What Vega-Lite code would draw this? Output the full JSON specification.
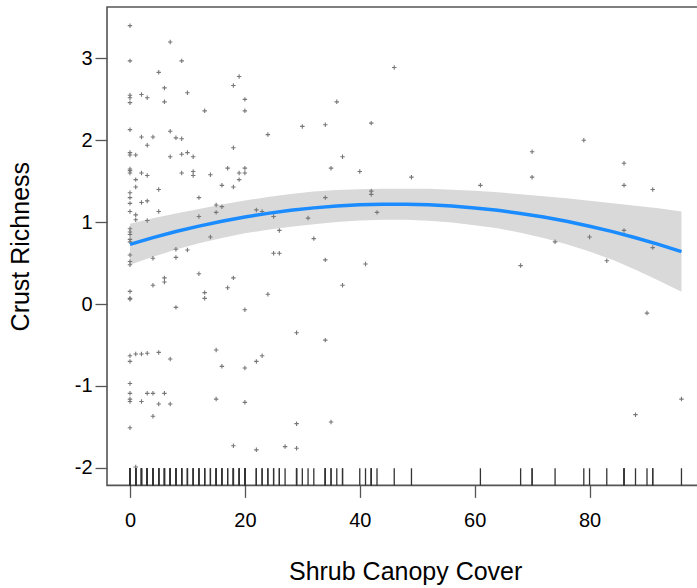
{
  "$schema": "https://vega.github.io/schema/vega-lite/v6.json",
  "width": 596.3,
  "height": 478.4,
  "autosize": {"type": "none"},
  "padding": {"left": 107, "top": 7, "right": 0, "bottom": 103},
  "background": "white",
  "config": {
    "view": {"stroke": "#555555", "strokeWidth": 1.6},
    "font": "Liberation Sans",
    "axis": {
      "grid": false, "domain": false,
      "tickSize": 12, "tickColor": "#555555", "tickWidth": 1.3,
      "labelFont": "Liberation Sans", "labelFontSize": 20, "labelColor": "#000000",
      "titleFont": "Liberation Sans", "titleFontSize": 25, "titleFontWeight": "normal", "titleColor": "#000000"
    },
    "axisX": {"labelPadding": 13, "titleBaseline": "middle", "titleY": 86},
    "axisY": {"labelPadding": 3, "titleBaseline": "middle", "titleX": -87, "titleY": 239.2, "titleAngle": 270}
  },
  "datasets": {
    "pts": [
      {"x":0,"y":3.40},{"x":0,"y":2.97},{"x":0,"y":2.55},{"x":0,"y":2.52},{"x":0,"y":2.46},{"x":0,"y":2.13},{"x":0,"y":1.85},{"x":0,"y":1.82},{"x":0,"y":1.65},{"x":0,"y":1.63},{"x":0,"y":1.60},{"x":0,"y":1.36},{"x":0,"y":1.30},{"x":0,"y":1.23},{"x":0,"y":1.13},{"x":0,"y":0.92},{"x":0,"y":0.88},{"x":0,"y":0.85},{"x":0,"y":0.79},{"x":0,"y":0.76},{"x":0,"y":0.60},{"x":0,"y":0.52},{"x":0,"y":0.48},{"x":0,"y":0.155},{"x":0,"y":0.07},{"x":0,"y":0.06},{"x":0,"y":-0.63},{"x":0,"y":-0.70},{"x":0,"y":-0.97},{"x":0,"y":-1.09},{"x":0,"y":-1.16},{"x":0,"y":-1.19},{"x":0,"y":-1.51},
      {"x":1,"y":1.82},{"x":1,"y":1.52},{"x":1,"y":1.43},{"x":1,"y":1.09},{"x":1,"y":1.03},{"x":1,"y":-0.61},{"x":1,"y":-1.99},
      {"x":2,"y":2.56},{"x":2,"y":2.04},{"x":2,"y":1.60},{"x":2,"y":1.24},{"x":2,"y":-0.61},{"x":2,"y":-1.19},
      {"x":3,"y":2.52},{"x":3,"y":1.94},{"x":3,"y":1.57},{"x":3,"y":1.26},{"x":3,"y":1.02},{"x":3,"y":-0.60},{"x":3,"y":-1.09},
      {"x":4,"y":2.04},{"x":4,"y":0.56},{"x":4,"y":0.23},{"x":4,"y":-1.09},{"x":4,"y":-1.37},
      {"x":5,"y":2.83},{"x":5,"y":1.40},{"x":5,"y":1.13},{"x":5,"y":-0.59},{"x":5,"y":-1.22},
      {"x":6,"y":2.64},{"x":6,"y":2.47},{"x":6,"y":0.32},{"x":6,"y":0.27},{"x":6,"y":-1.09},
      {"x":7,"y":3.20},{"x":7,"y":2.11},{"x":7,"y":1.80},{"x":7,"y":-0.67},{"x":7,"y":-1.22},
      {"x":8,"y":2.03},{"x":8,"y":0.67},{"x":8,"y":0.57},{"x":8,"y":-0.04},
      {"x":9,"y":2.97},{"x":9,"y":2.02},{"x":9,"y":1.83},{"x":9,"y":1.60},
      {"x":10,"y":2.58},{"x":10,"y":1.85},{"x":10,"y":0.66},
      {"x":11,"y":1.80},{"x":11,"y":1.62},{"x":11,"y":1.57},
      {"x":12,"y":1.30},{"x":12,"y":1.07},{"x":12,"y":0.37},
      {"x":13,"y":2.36},{"x":13,"y":0.14},{"x":13,"y":0.07},
      {"x":14,"y":1.58},{"x":14,"y":0.82},
      {"x":15,"y":1.21},{"x":15,"y":1.12},{"x":15,"y":-0.56},{"x":15,"y":-1.16},
      {"x":16,"y":1.45},{"x":16,"y":1.19},{"x":16,"y":-0.76},
      {"x":17,"y":1.66},{"x":17,"y":0.20},
      {"x":18,"y":2.67},{"x":18,"y":1.91},{"x":18,"y":1.43},{"x":18,"y":0.32},{"x":18,"y":-1.73},
      {"x":19,"y":2.78},{"x":19,"y":1.60},{"x":19,"y":1.52},
      {"x":20,"y":2.50},{"x":20,"y":2.36},{"x":20,"y":1.66},{"x":20,"y":1.60},{"x":20,"y":-0.07},{"x":20,"y":-0.78},{"x":20,"y":-1.20},
      {"x":22,"y":1.15},{"x":22,"y":-0.70},{"x":22,"y":-1.78},
      {"x":23,"y":1.13},{"x":23,"y":-0.63},
      {"x":24,"y":2.07},{"x":24,"y":0.12},
      {"x":25,"y":1.07},{"x":25,"y":0.62},
      {"x":26,"y":0.90},{"x":26,"y":0.62},
      {"x":27,"y":-1.74},
      {"x":29,"y":-0.35},{"x":29,"y":-1.46},{"x":29,"y":-1.76},
      {"x":30,"y":2.17},
      {"x":31,"y":1.05},
      {"x":32,"y":0.80},
      {"x":34,"y":2.19},{"x":34,"y":1.30},{"x":34,"y":0.54},{"x":34,"y":-0.44},
      {"x":35,"y":1.66},{"x":35,"y":-1.44},
      {"x":36,"y":2.47},
      {"x":37,"y":1.80},{"x":37,"y":0.23},
      {"x":40,"y":1.62},
      {"x":41,"y":0.49},
      {"x":42,"y":2.21},{"x":42,"y":1.38},{"x":42,"y":1.34},
      {"x":43,"y":1.12},
      {"x":46,"y":2.89},
      {"x":49,"y":1.55},
      {"x":61,"y":1.45},
      {"x":68,"y":0.47},
      {"x":70,"y":1.86},{"x":70,"y":1.55},
      {"x":74,"y":0.76},
      {"x":79,"y":2.00},
      {"x":80,"y":0.82},
      {"x":83,"y":0.53},
      {"x":86,"y":1.72},{"x":86,"y":1.45},{"x":86,"y":0.90},
      {"x":88,"y":-1.35},
      {"x":90,"y":-0.11},
      {"x":91,"y":1.40},{"x":91,"y":0.69},
      {"x":96,"y":-1.16}
    ],
    "curve": [
      {"x":0,"fit":0.730,"lo":0.480,"hi":0.980},
      {"x":4,"fit":0.812,"lo":0.577,"hi":1.047},
      {"x":8,"fit":0.886,"lo":0.666,"hi":1.106},
      {"x":12,"fit":0.952,"lo":0.742,"hi":1.162},
      {"x":16,"fit":1.012,"lo":0.807,"hi":1.217},
      {"x":20,"fit":1.064,"lo":0.864,"hi":1.264},
      {"x":24,"fit":1.108,"lo":0.908,"hi":1.308},
      {"x":28,"fit":1.145,"lo":0.945,"hi":1.345},
      {"x":32,"fit":1.175,"lo":0.975,"hi":1.375},
      {"x":36,"fit":1.197,"lo":1.002,"hi":1.392},
      {"x":40,"fit":1.212,"lo":1.022,"hi":1.402},
      {"x":44,"fit":1.219,"lo":1.029,"hi":1.409},
      {"x":48,"fit":1.219,"lo":1.029,"hi":1.409},
      {"x":52,"fit":1.212,"lo":1.017,"hi":1.407},
      {"x":56,"fit":1.197,"lo":0.997,"hi":1.397},
      {"x":60,"fit":1.174,"lo":0.964,"hi":1.384},
      {"x":64,"fit":1.145,"lo":0.925,"hi":1.365},
      {"x":68,"fit":1.107,"lo":0.872,"hi":1.342},
      {"x":72,"fit":1.063,"lo":0.808,"hi":1.318},
      {"x":76,"fit":1.011,"lo":0.731,"hi":1.291},
      {"x":80,"fit":0.951,"lo":0.641,"hi":1.261},
      {"x":84,"fit":0.885,"lo":0.540,"hi":1.230},
      {"x":88,"fit":0.810,"lo":0.420,"hi":1.200},
      {"x":92,"fit":0.729,"lo":0.289,"hi":1.169},
      {"x":96,"fit":0.640,"lo":0.150,"hi":1.130}
    ]
  },
  "layer": [
    {
      "data": {"name": "curve"},
      "mark": {"type": "area", "color": "#d9d9d9", "opacity": 1},
      "encoding": {
        "x": {"field": "x", "type": "quantitative", "scale": {"domain": [-4.0, 99.8], "nice": false, "zero": false},
              "axis": {"title": "Shrub Canopy Cover", "values": [0, 20, 40, 60, 80], "labelExpr": "'' + datum.value"}},
        "y": {"field": "lo", "type": "quantitative", "scale": {"domain": [-2.214, 3.628], "nice": false, "zero": false},
              "axis": {"title": "Crust Richness", "values": [-2, -1, 0, 1, 2, 3], "labelExpr": "'' + datum.value"}},
        "y2": {"field": "hi"}
      }
    },
    {
      "data": {"name": "pts"},
      "mark": {"type": "point", "shape": "M-1,0L1,0M0,-1L0,1", "filled": false, "stroke": "#777777", "strokeWidth": 1.1, "size": 20, "opacity": 1},
      "encoding": {
        "x": {"field": "x", "type": "quantitative", "scale": {"domain": [-4.0, 99.8], "nice": false, "zero": false},
              "axis": {"title": "Shrub Canopy Cover", "values": [0, 20, 40, 60, 80], "labelExpr": "'' + datum.value"}},
        "y": {"field": "y", "type": "quantitative", "scale": {"domain": [-2.214, 3.628], "nice": false, "zero": false},
              "axis": {"title": "Crust Richness", "values": [-2, -1, 0, 1, 2, 3], "labelExpr": "'' + datum.value"}}
      }
    },
    {
      "data": {"name": "curve"},
      "mark": {"type": "line", "color": "#1a8cff", "strokeWidth": 3.5},
      "encoding": {
        "x": {"field": "x", "type": "quantitative", "scale": {"domain": [-4.0, 99.8], "nice": false, "zero": false},
              "axis": {"title": "Shrub Canopy Cover", "values": [0, 20, 40, 60, 80], "labelExpr": "'' + datum.value"}},
        "y": {"field": "fit", "type": "quantitative", "scale": {"domain": [-2.214, 3.628], "nice": false, "zero": false},
              "axis": {"title": "Crust Richness", "values": [-2, -1, 0, 1, 2, 3], "labelExpr": "'' + datum.value"}}
      }
    },
    {
      "data": {"name": "pts"},
      "mark": {"type": "rule", "color": "#333333", "strokeWidth": 1.3},
      "encoding": {
        "x": {"field": "x", "type": "quantitative", "scale": {"domain": [-4.0, 99.8], "nice": false, "zero": false},
              "axis": {"title": "Shrub Canopy Cover", "values": [0, 20, 40, 60, 80], "labelExpr": "'' + datum.value"}},
        "y": {"datum": -2.214, "type": "quantitative", "scale": {"domain": [-2.214, 3.628], "nice": false, "zero": false},
              "axis": {"title": "Crust Richness", "values": [-2, -1, 0, 1, 2, 3], "labelExpr": "'' + datum.value"}},
        "y2": {"datum": -2.005}
      }
    }
  ]
}
